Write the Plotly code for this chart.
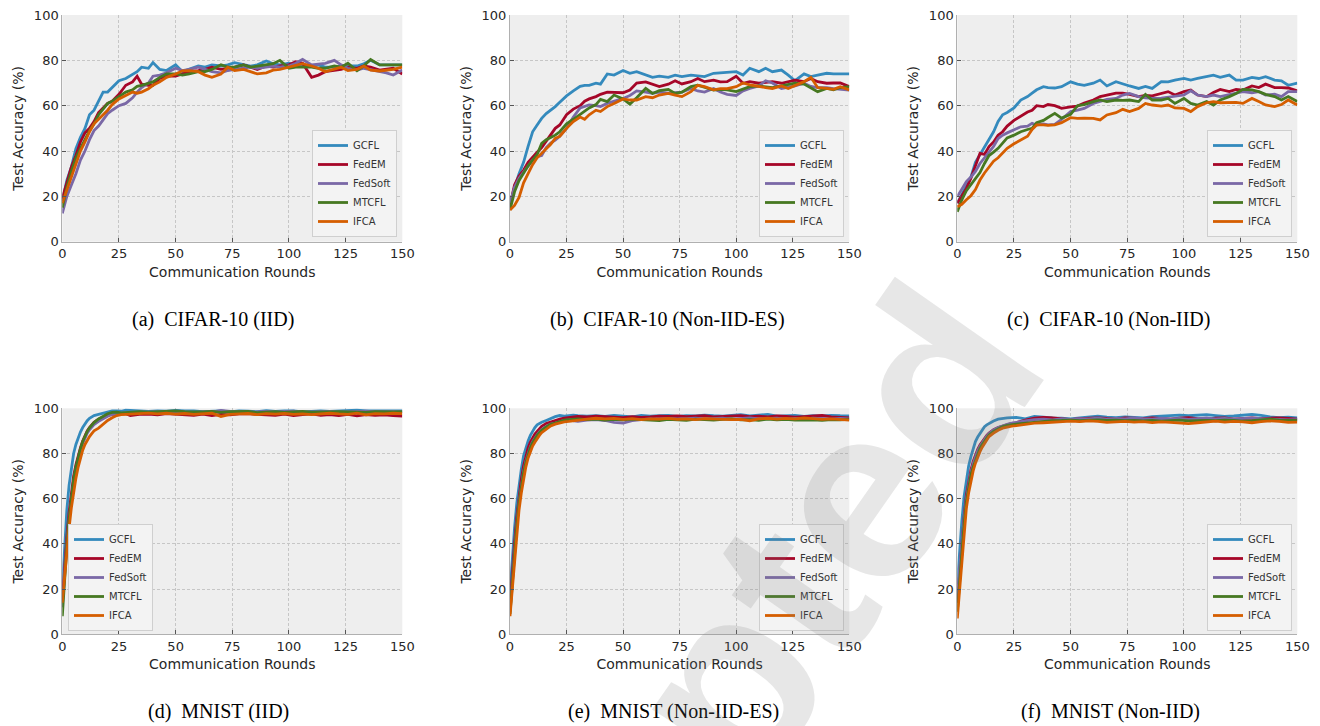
import plotly.graph_objects as go

# ---------------- data ----------------
METHODS = ["GCFL", "FedEM", "FedSoft", "MTCFL", "IFCA"]
COLORS = ["#348ABD", "#A60628", "#7A68A6", "#467821", "#D55E00"]

ROUNDS_CIFAR = [0, 2, 4, 6, 8, 10, 12, 14, 16, 18, 20, 22, 25, 28, 31, 33, 35, 38, 40, 43, 46, 50,
                53, 56, 60, 63, 66, 70, 73, 76, 80, 83, 86, 90, 93, 96, 100,
                103, 106, 110, 113, 116, 120, 123, 126, 130, 133, 136, 140, 143, 146, 150]
ROUNDS_MNIST = [0, 1, 2, 3, 4, 5, 6, 7, 8, 9, 10, 11, 12, 13, 14,
                16, 18, 20, 22, 24, 26, 28, 30,
                34, 38, 42, 46, 50, 54, 58, 62, 66, 70, 74, 78, 82, 86, 90, 94, 98, 102,
                106, 110, 114, 118, 122, 126, 130, 134, 138, 142, 146, 150]

# (a) CIFAR-10 (IID)
A_GCFL = [18, 27, 33, 41, 46, 50, 56, 58, 62, 66, 66, 68,
          71, 72, 74, 75, 77, 76.5, 79, 76, 75.5, 78,
          75, 76, 77.5, 77, 78, 77.5, 78, 79, 78, 77.5, 78, 79.7, 78.5, 78, 78.7,
          78, 77.8, 77.5, 78, 77, 77, 77.5, 77.5, 77.5, 78.5, 80, 78, 78, 78, 78]
A_FEDEM = [19, 26, 33, 38, 44, 48, 50, 53, 57, 59, 61, 62,
           65, 69, 70.5, 73, 69.5, 69, 69, 72, 73, 73,
           74, 75, 75.5, 76, 77, 76, 76.5, 77, 78, 77, 76, 77.5, 77, 77.5, 78,
           79.4, 78.7, 72.5, 73.5, 75, 75.5, 76, 77, 76.5, 77.5, 77, 75.7, 76, 76.5, 74]
A_FEDSOFT = [12.5, 20, 25, 30, 36, 40, 45, 49, 51, 54, 56.5, 58,
             60, 61, 63.5, 66, 68, 70, 73, 73.5, 74.5, 76.5,
             75.5, 76, 77, 76, 75, 74.5, 75.5, 76, 76.5, 77, 76.5, 77, 77.5, 77, 77.5,
             78.7, 80.4, 78, 78.5, 78.7, 80, 78, 76.5, 75.7, 76.5, 76, 75, 74.5, 73.5, 75.7]
A_MTCFL = [15, 24, 31, 37, 41, 45, 49, 52, 56, 58.5, 61, 62,
           64, 66, 67, 68.5, 69, 70, 70.5, 72.5, 74, 74,
           73.5, 74, 75, 75, 76, 78, 77, 77, 78, 77, 77.5, 78, 78.5, 80, 76.5,
           77, 77, 77, 76.5, 76.5, 77.5, 77, 78.7, 75.4, 77.5, 80.4, 78, 78, 78, 78]
A_IFCA = [17, 23, 29, 35, 40, 44, 48.5, 52, 54, 56, 58, 60.5,
          63, 64.5, 66, 65.5, 66, 67.5, 69, 70.5, 72.5, 74,
          75.4, 75.5, 75, 73.5, 72.5, 74, 77, 75.5, 76, 75, 74, 74.5, 75.7, 76, 77,
          78, 78.5, 77.5, 76.5, 75, 76, 77, 75.5, 76, 77.5, 75.7, 75.3, 75.5, 76, 77]

# (b) CIFAR-10 (Non-IID-ES)
B_GCFL = [15.4, 24, 30, 35, 42, 48.5, 51.5, 54.4, 56.5, 58, 59.6, 61.5,
          64.3, 66.5, 68.5, 69, 69, 69.9, 69.5, 74, 73.5, 75.5,
          74.3, 75, 73.5, 72.5, 73, 72.5, 73.5, 72.8, 73.5, 73, 72.8, 74.3, 74.5, 75, 75,
          73.5, 76.5, 75, 76.5, 75, 75.7, 73.5, 71, 74, 72.8, 73.5, 74.3, 74, 74, 74]
B_FEDEM = [16, 25, 29, 31.5, 35, 37.5, 39.5, 41.5, 44.5, 47.5, 50, 51.5,
           56, 58.5, 60, 62, 63, 64, 65, 66, 66, 65.7,
           66.9, 70, 70.5, 69.5, 68.4, 69.5, 71, 69.6, 70.6, 72, 70.6, 71.3, 70.5, 70.6, 73,
           69.9, 70.6, 69.9, 70.3, 70.6, 69.9, 70.5, 71.3, 70.6, 72, 70.6, 69.9, 70, 70, 68.4]
B_FEDSOFT = [17, 24, 28, 30.5, 33.5, 36, 37.5, 38, 41.5, 43.5, 44.8, 46.5,
             50, 55, 59, 59.5, 60.3, 60, 59.6, 61, 61.8, 63.2,
             64.5, 66.5, 66, 65.5, 66, 65.5, 65.8, 66, 67.6, 66.5, 66, 67.6, 66, 65, 64.5,
             66.5, 67.6, 68.7, 71, 70, 67.6, 68, 68.7, 69.9, 68.5, 68, 68, 67.5, 67.2, 66.9]
B_MTCFL = [14, 22, 27, 30.5, 33.5, 36, 38.5, 43.4, 45, 46, 47, 48.5,
           52, 54, 56, 57.5, 59, 60.5, 62.8, 61.8, 64.7, 63,
           60.7, 63.5, 67.6, 65.4, 66.6, 67.2, 65.4, 66, 68.4, 69, 68, 66.9, 67.2, 67, 66.2,
           67.2, 68.4, 68.7, 68.5, 68, 68.7, 69.3, 69.9, 69.5, 68, 66.2, 67.6, 67, 68, 68.4]
B_IFCA = [14, 16, 19.5, 26, 30, 34, 37, 39, 41, 43, 45.6, 46.5,
          50, 53, 55, 54, 56, 58, 57.4, 59.6, 61, 63,
          62.5, 62.5, 64, 63.5, 64.7, 65.4, 64.7, 64, 66.2, 69, 68.4, 67, 67.5, 67.5, 68.4,
          70, 69.2, 68.7, 68, 67.6, 68.7, 67.6, 69, 70.6, 72.5, 68, 67.6, 67.2, 68.4, 67]

# (c) CIFAR-10 (Non-IID)
C_GCFL = [17, 21, 24.5, 28.5, 35, 38.5, 42, 45, 48.5, 53, 56, 57,
          59, 62.5, 64, 65.5, 67, 68.4, 68, 67.8, 68.4, 70.5,
          69.5, 69, 69.9, 71.3, 68.7, 70.6, 69.5, 68.7, 67.6, 68.5, 67.6, 70.6, 70.5, 71.3, 72,
          71.3, 72, 72.8, 73.5, 72.5, 73.5, 71.3, 71.3, 72.5, 72, 72.8, 71.3, 71, 69, 69.9]
C_FEDEM = [17, 20.5, 23.5, 28, 34, 39, 38.5, 42, 44, 47, 48.5, 51,
           53.5, 55.5, 57.2, 58, 60, 59.6, 60.5, 60, 58.8, 59.5,
           59.8, 61.2, 62.5, 64, 64.7, 65.5, 65.5, 65, 64, 64.5, 64.3, 65.4, 66.2, 64.7, 66.2,
           66.9, 64.7, 64, 65.8, 67.2, 66.2, 67.2, 66.9, 68.7, 68, 69.5, 68, 68, 67.8, 66.6]
C_FEDSOFT = [19.9, 23.5, 26.5, 28.5, 31, 34.5, 37, 39.5, 42, 45.5, 47, 48,
             49.5, 50.7, 51, 52.2, 51.5, 52, 51.5, 51.8, 54, 57.4,
             58, 58.8, 61, 62, 62.8, 63.2, 64.7, 65.4, 64, 63.5, 63.2, 63.3, 63.8, 64, 64.7,
             66.6, 64.7, 64, 64.7, 64, 64.7, 65.5, 66.2, 65.7, 66.2, 64.7, 65.1, 64, 66.2, 66.2]
C_MTCFL = [13.2, 18.5, 22.5, 25, 28, 30.5, 34.5, 38, 39.5, 41.2, 43.5, 45.8,
           47, 48.5, 49.5, 50, 52.5, 53.5, 54.8, 56.6, 54.5, 56.2,
           60, 60.5, 61.8, 62.5, 61.8, 62.5, 62.3, 62.5, 61.8, 65, 62.5, 62.5, 63.2, 61, 63.2,
           61, 60.3, 61.8, 60.3, 62.5, 64, 65.4, 67.2, 67, 66.2, 65, 64, 62.5, 64, 61.8]
C_IFCA = [15.4, 16.5, 18.5, 20.3, 23, 27.2, 30.3, 33, 35.5, 37, 39, 41.2,
          43.2, 44.8, 46.5, 49.5, 51.5, 51.5, 51.3, 51.5, 52.5, 54.7,
          54.4, 54.5, 54.4, 53.7, 55.9, 56.9, 58.4, 57.4, 58.8, 61, 60.3, 59.8, 60.3, 59, 58.8,
          57.4, 59.6, 61.3, 61.8, 61.3, 61.5, 61.5, 61, 63.2, 61.8, 60.3, 59.6, 60.5, 62.5, 60.3]

# (d) MNIST (IID)
D_GCFL = [20, 40, 55, 66, 74, 80, 84, 87, 89.5, 91.5, 93.2, 94.5, 95.6, 96.3, 96.8,
          97.3, 97.8, 98.6, 98.8, 98.8, 98.7, 99.2, 99,
          98.8, 98.6, 98.9, 98.7, 99.1, 98.8, 98.9, 98.5, 98.6, 98.8, 98.4, 98.9, 98.7, 98.5, 99.0,
          98.6, 98.8, 98.9, 98.4, 98.7, 98.8, 98.6, 98.7, 99.0, 99.2, 98.8, 98.9, 98.7, 98.8, 98.9]
D_FEDEM = [15, 30, 43, 54, 63, 70, 75, 79, 82.5, 85.5, 88, 90, 91.5, 92.8, 93.8,
           95.2, 96.2, 97, 97.3, 97.5, 97.4, 97.6, 96.8,
           97.3, 97.4, 97.1, 97.6, 97.3, 97.2, 96.9, 97.4, 96.8, 97.3, 97.1, 97.5, 97.6, 97.3, 97.0,
           96.9, 97.4, 96.8, 97.2, 97.5, 96.9, 97.2, 96.8, 97.3, 96.7, 97.2, 96.9, 97.1, 96.8, 96.6]
D_FEDSOFT = [12, 27, 40, 51, 60, 67, 73, 77.5, 81, 84.5, 87, 89, 90.5, 91.8, 92.8,
             94.2, 95.5, 96.5, 97.3, 97.6, 97.8, 98.0, 98.1,
             98.2, 98.4, 98.3, 98.6, 98.5, 98.2, 98.0, 98.4, 98.3, 99.1, 98.6, 98.5, 98.2, 98.4, 98.6,
             98.3, 98.5, 98.7, 98.3, 98.4, 98.6, 98.5, 98.2, 98.4, 98.5, 98.7, 98.4, 98.3, 98.5, 98.4]
D_MTCFL = [8, 25, 39, 51, 61, 68.5, 74, 78.5, 82, 85.3, 87.8, 89.8, 91.4, 92.7, 93.7,
           95.3, 96.5, 97.6, 98.2, 98.3, 98.0, 98.2, 98.4,
           98.5, 98.3, 98.4, 98.6, 98.9, 98.5, 98.3, 98.4, 98.6, 98.2, 98.5, 98.4, 98.6, 98.1, 98.3,
           98.5, 98.2, 98.4, 98.6, 98.3, 98.2, 98.4, 98.5, 98.3, 98.4, 98.2, 98.5, 98.3, 98.4, 98.5]
D_IFCA = [14, 26, 37, 47, 56, 63, 69, 74, 78, 81.5, 84, 86, 87.5, 88.8, 90,
          91.2, 93, 94.6, 95.8, 96.8, 97.2, 97.3, 97.5,
          97.6, 97.9, 97.5, 97.8, 97.4, 97.7, 97.3, 97.6, 97.8, 96.4, 97.3, 97.5, 97.7, 97.2, 97.6,
          97.4, 97.7, 97.3, 97.5, 97.2, 97.6, 97.8, 97.5, 97.3, 97.9, 97.1, 97.6, 97.5, 97.8, 97.6]

# (e) MNIST (Non-IID-ES)
E_GCFL = [18, 33, 47, 58, 66, 73, 79, 82.5, 85.5, 88, 90, 91.5, 92.7, 93.3, 93.8,
          94.6, 95.5, 96.3, 96.8, 96.5, 96.8, 97, 96.8,
          96.5, 96.7, 96.4, 96.9, 96.6, 96.2, 96.8, 96.5, 96.7, 96.9, 96.4, 96.8, 96.6, 97.0, 96.7,
          96.5, 96.9, 97.2, 96.6, 96.8, 97.3, 96.5, 96.7, 96.9, 96.4, 96.8, 96.6, 96.9, 96.7, 96.6]
E_FEDEM = [12, 27, 40, 52, 61, 68.5, 74.5, 79, 82.5, 85, 87, 88.6, 89.8, 91, 92,
           93.3, 94, 94.6, 95.2, 95.7, 95.9, 96.2, 96.4,
           96.2, 96.5, 96.3, 96.1, 95.9, 96.3, 96.0, 96.2, 96.5, 96.4, 96.6, 96.3, 96.5, 96.7, 96.2,
           96.4, 96.6, 96.8, 96.3, 96.5, 96.2, 96.6, 96.4, 96.1, 96.3, 96.5, 96.8, 96.2, 96.0, 95.8]
E_FEDSOFT = [10, 24, 37, 49, 58.5, 66, 72, 76.5, 80, 83, 85.2, 87, 88.3, 89.5, 90.6,
             92, 93, 93.5, 94.2, 94.6, 94.8, 94.5, 94.2,
             94.8, 95.0, 94.6, 93.8, 93.5, 94.5, 95.0, 95.3, 95.1, 95.4, 95.2, 95.5, 95.6, 95.3, 95.4,
             95.6, 95.2, 95.5, 95.7, 95.3, 95.4, 95.6, 95.1, 95.5, 95.3, 95.6, 95.4, 95.2, 95.5, 95.3]
E_MTCFL = [9, 23, 36, 48, 58, 65.5, 71.5, 76, 79.5, 82.5, 84.8, 86.6, 88, 89.2, 90.3,
           91.8, 92.9, 93.5, 94.2, 94.8, 95, 95.2, 95.3,
           95.0, 95.2, 94.8, 95.1, 94.9, 95.2, 95.0, 94.8, 94.6, 95.1, 94.9, 94.7, 95.2, 95.0, 94.8,
           95.1, 95.3, 94.9, 95.0, 94.7, 95.2, 94.9, 95.1, 94.8, 95.0, 94.9, 94.7, 95.0, 94.9, 95.1]
E_IFCA = [8, 20, 32, 44, 55, 62.5, 69, 74, 78, 81, 83.3, 85, 86.7, 88, 89.2,
          90.8, 92.2, 93, 93.6, 94, 94.2, 94.5, 94.8,
          95.2, 95.6, 95.3, 95.5, 95.1, 95.4, 95.0, 95.3, 95.2, 95.5, 95.1, 95.3, 95.0, 95.4, 95.2,
          95.3, 95.0, 95.1, 94.5, 95.3, 95.6, 95.2, 95.5, 95.3, 95.7, 95.4, 95.1, 95.3, 95.0, 94.8]

# (f) MNIST (Non-IID)
F_GCFL = [22, 37, 50, 61, 69, 74.5, 78.6, 82, 85.3, 87.3, 89, 90.5, 91.9, 92.7, 93.4,
          94.4, 95.2, 95.6, 95.8, 95.9, 96, 95.7, 95.3,
          96.4, 96.0, 95.8, 95.6, 95.3, 95.8, 96.3, 96.5, 96.1, 95.9, 96.2, 96.0, 95.8, 96.3, 96.5,
          96.8, 97.0, 96.7, 96.9, 97.2, 96.8, 96.4, 96.6, 97.0, 97.3, 96.9, 96.2, 95.9, 96.1, 95.8]
F_FEDEM = [14, 28, 41, 52, 61.6, 67.5, 72.7, 76.5, 79.4, 81.8, 83.8, 85.4, 86.7, 88, 89,
           90.5, 91.5, 92.2, 92.8, 93.3, 93.6, 94.2, 94.8,
           95.6, 96.0, 95.7, 95.3, 95.0, 95.4, 95.6, 95.8, 95.5, 95.3, 95.7, 95.6, 95.4, 95.8, 95.5,
           95.2, 95.6, 95.9, 95.4, 95.3, 95.6, 95.8, 95.2, 95.5, 95.7, 95.4, 95.6, 95.8, 95.5, 95.2]
F_FEDSOFT = [18, 30, 41, 51, 60, 66.5, 71.5, 75.5, 78.7, 81.2, 83.2, 84.9, 86.4, 87.7, 88.8,
             90.4, 91.5, 92.3, 92.9, 93.4, 93.8, 94.1, 94.4,
             95.0, 95.2, 94.9, 95.3, 95.1, 95.4, 95.3, 95.6, 95.2, 95.5, 95.3, 95.7, 95.4, 95.2, 95.6,
             95.3, 95.5, 95.1, 95.4, 95.7, 95.3, 95.5, 95.2, 95.6, 95.8, 95.4, 95.2, 95.1, 94.9, 95.0]
F_MTCFL = [10, 24, 37, 48.5, 58.7, 65, 70.5, 74, 77, 80, 82.3, 84, 85.3, 86.8, 88.2,
           89.8, 91, 91.9, 92.4, 92.8, 93, 93.2, 93.4,
           94.0, 94.3, 94.5, 94.6, 94.8, 94.5, 94.7, 94.9, 94.6, 94.8, 94.5, 94.7, 94.4, 94.6, 94.3,
           94.5, 94.8, 94.4, 94.6, 94.7, 94.5, 94.8, 94.6, 94.3, 94.5, 94.9, 95.2, 94.8, 94.6, 94.7]
F_IFCA = [7, 20, 33, 45, 55.8, 62.5, 68.3, 72.3, 75.7, 78.5, 80.8, 82.8, 84.5, 86, 87.5,
          89, 90.3, 91.2, 91.8, 92.1, 92.3, 92.6, 92.9,
          93.4, 93.6, 93.8, 94.0, 94.3, 94.1, 94.4, 94.2, 93.8, 94.0, 94.2, 93.9, 94.1, 93.7, 94.0,
          93.8, 93.4, 93.2, 93.6, 94.0, 94.3, 93.9, 94.2, 94.0, 93.6, 94.1, 94.4, 94.2, 93.8, 93.9]

CAPTIONS = ["(a)\u00a0 CIFAR-10 (IID)", "(b)\u00a0 CIFAR-10 (Non-IID-ES)", "(c)\u00a0 CIFAR-10 (Non-IID)",
            "(d)\u00a0 MNIST (IID)", "(e)\u00a0 MNIST (Non-IID-ES)", "(f)\u00a0 MNIST (Non-IID)"]
X_TICKS = [0, 25, 50, 75, 100, 125, 150]
Y_TICKS = [0, 20, 40, 60, 80, 100]

PANEL_ROUNDS = [ROUNDS_CIFAR] * 3 + [ROUNDS_MNIST] * 3
PANEL_SERIES = [
    [A_GCFL, A_FEDEM, A_FEDSOFT, A_MTCFL, A_IFCA],
    [B_GCFL, B_FEDEM, B_FEDSOFT, B_MTCFL, B_IFCA],
    [C_GCFL, C_FEDEM, C_FEDSOFT, C_MTCFL, C_IFCA],
    [D_GCFL, D_FEDEM, D_FEDSOFT, D_MTCFL, D_IFCA],
    [E_GCFL, E_FEDEM, E_FEDSOFT, E_MTCFL, E_IFCA],
    [F_GCFL, F_FEDEM, F_FEDSOFT, F_MTCFL, F_IFCA],
]
for r, ss in zip(PANEL_ROUNDS, PANEL_SERIES):
    for s in ss:
        assert len(s) == len(r), (len(s), len(r))

# ---------------- layout geometry (screen pixels) ----------------
# The page body has an 8px margin, so the figure is 8px smaller and every
# screen position is shifted by that offset.
OFF = 8
W, H = 1320 - OFF, 726 - OFF


def px(x):
    return (x - OFF) / W


def py(y):
    return 1 - (y - OFF) / H


COLS = [(62.3, 402.3), (510, 849.3), (957.3, 1297.3)]
ROWS = [(15, 241.7), (408.3, 634.3)]
LEGEND_POS = [(397, 237, "right"), (844, 237, "right"), (1292, 237, "right"),
              (68, 631, "left"), (844, 631, "right"), (1292, 631, "right")]
CAPTION_POS = [(213, 319), (667, 319), (1108, 319), (218, 711), (674, 711), (1110, 711)]

SANS = "DejaVu Sans"
TXT = "#262626"

fig = go.Figure()
layout = dict(
    width=W, height=H, margin=dict(l=0, r=0, t=0, b=0, pad=0, autoexpand=False),
    paper_bgcolor="white", plot_bgcolor="#eeeeee",
    font=dict(family=SANS, color=TXT),
    annotations=[],
)

for i in range(6):
    suf = "" if i == 0 else str(i + 1)
    col, row = i % 3, i // 3
    x0, x1 = COLS[col]
    y0, y1 = ROWS[row]
    for name, color, vals in zip(METHODS, COLORS, PANEL_SERIES[i]):
        fig.add_trace(go.Scatter(
            x=PANEL_ROUNDS[i], y=vals, mode="lines", name=name,
            line=dict(color=color, width=2.8),
            xaxis="x" + suf, yaxis="y" + suf, legend="legend" + suf,
        ))
    common = dict(showline=True, linecolor="#b0b0b0", linewidth=1, mirror=False,
                  ticks="inside", ticklen=4, tickwidth=1, tickcolor="#555555",
                  showgrid=True, gridcolor="#c6c6c6", gridwidth=0.8, griddash="3px,2px",
                  zeroline=False, automargin=False, ticklabeloverflow="allow",
                  tickfont=dict(family=SANS, size=13, color=TXT))
    layout["xaxis" + suf] = dict(
        common, domain=[px(x0), px(x1)], anchor="y" + suf, range=[0, 150],
        tickvals=X_TICKS,
        title=dict(text="Communication Rounds", font=dict(family=SANS, size=14, color=TXT), standoff=6),
    )
    layout["yaxis" + suf] = dict(
        common, domain=[py(y1), py(y0)], anchor="x" + suf, range=[0, 100],
        tickvals=Y_TICKS,
        title=dict(text="Test Accuracy (%)", font=dict(family=SANS, size=14, color=TXT), standoff=6),
    )
    lx, ly, la = LEGEND_POS[i]
    layout["legend" + suf] = dict(
        x=px(lx), y=py(ly), xanchor=la, yanchor="bottom",
        bgcolor="#f3f3f3", bordercolor="#cfcfcf", borderwidth=1,
        font=dict(family=SANS, size=10, color="#333333"),
        tracegroupgap=0, itemwidth=30,
    )
    cx, cy = CAPTION_POS[i]
    layout["annotations"].append(dict(
        text=CAPTIONS[i], x=px(cx), y=py(cy), xref="paper", yref="paper",
        xanchor="center", yanchor="middle", showarrow=False,
        font=dict(family="Liberation Serif", size=20, color="black"),
    ))

# faint diagonal watermark
layout["annotations"].append(dict(
    text="<b>Accepted</b>", x=px(659), y=py(778), xref="paper", yref="paper",
    xanchor="center", yanchor="middle", showarrow=False, textangle=-55,
    font=dict(family="Liberation Sans", size=250, color="rgba(120,120,120,0.18)"),
))

fig.update_layout(**layout)
fig.write_html("out.html")
